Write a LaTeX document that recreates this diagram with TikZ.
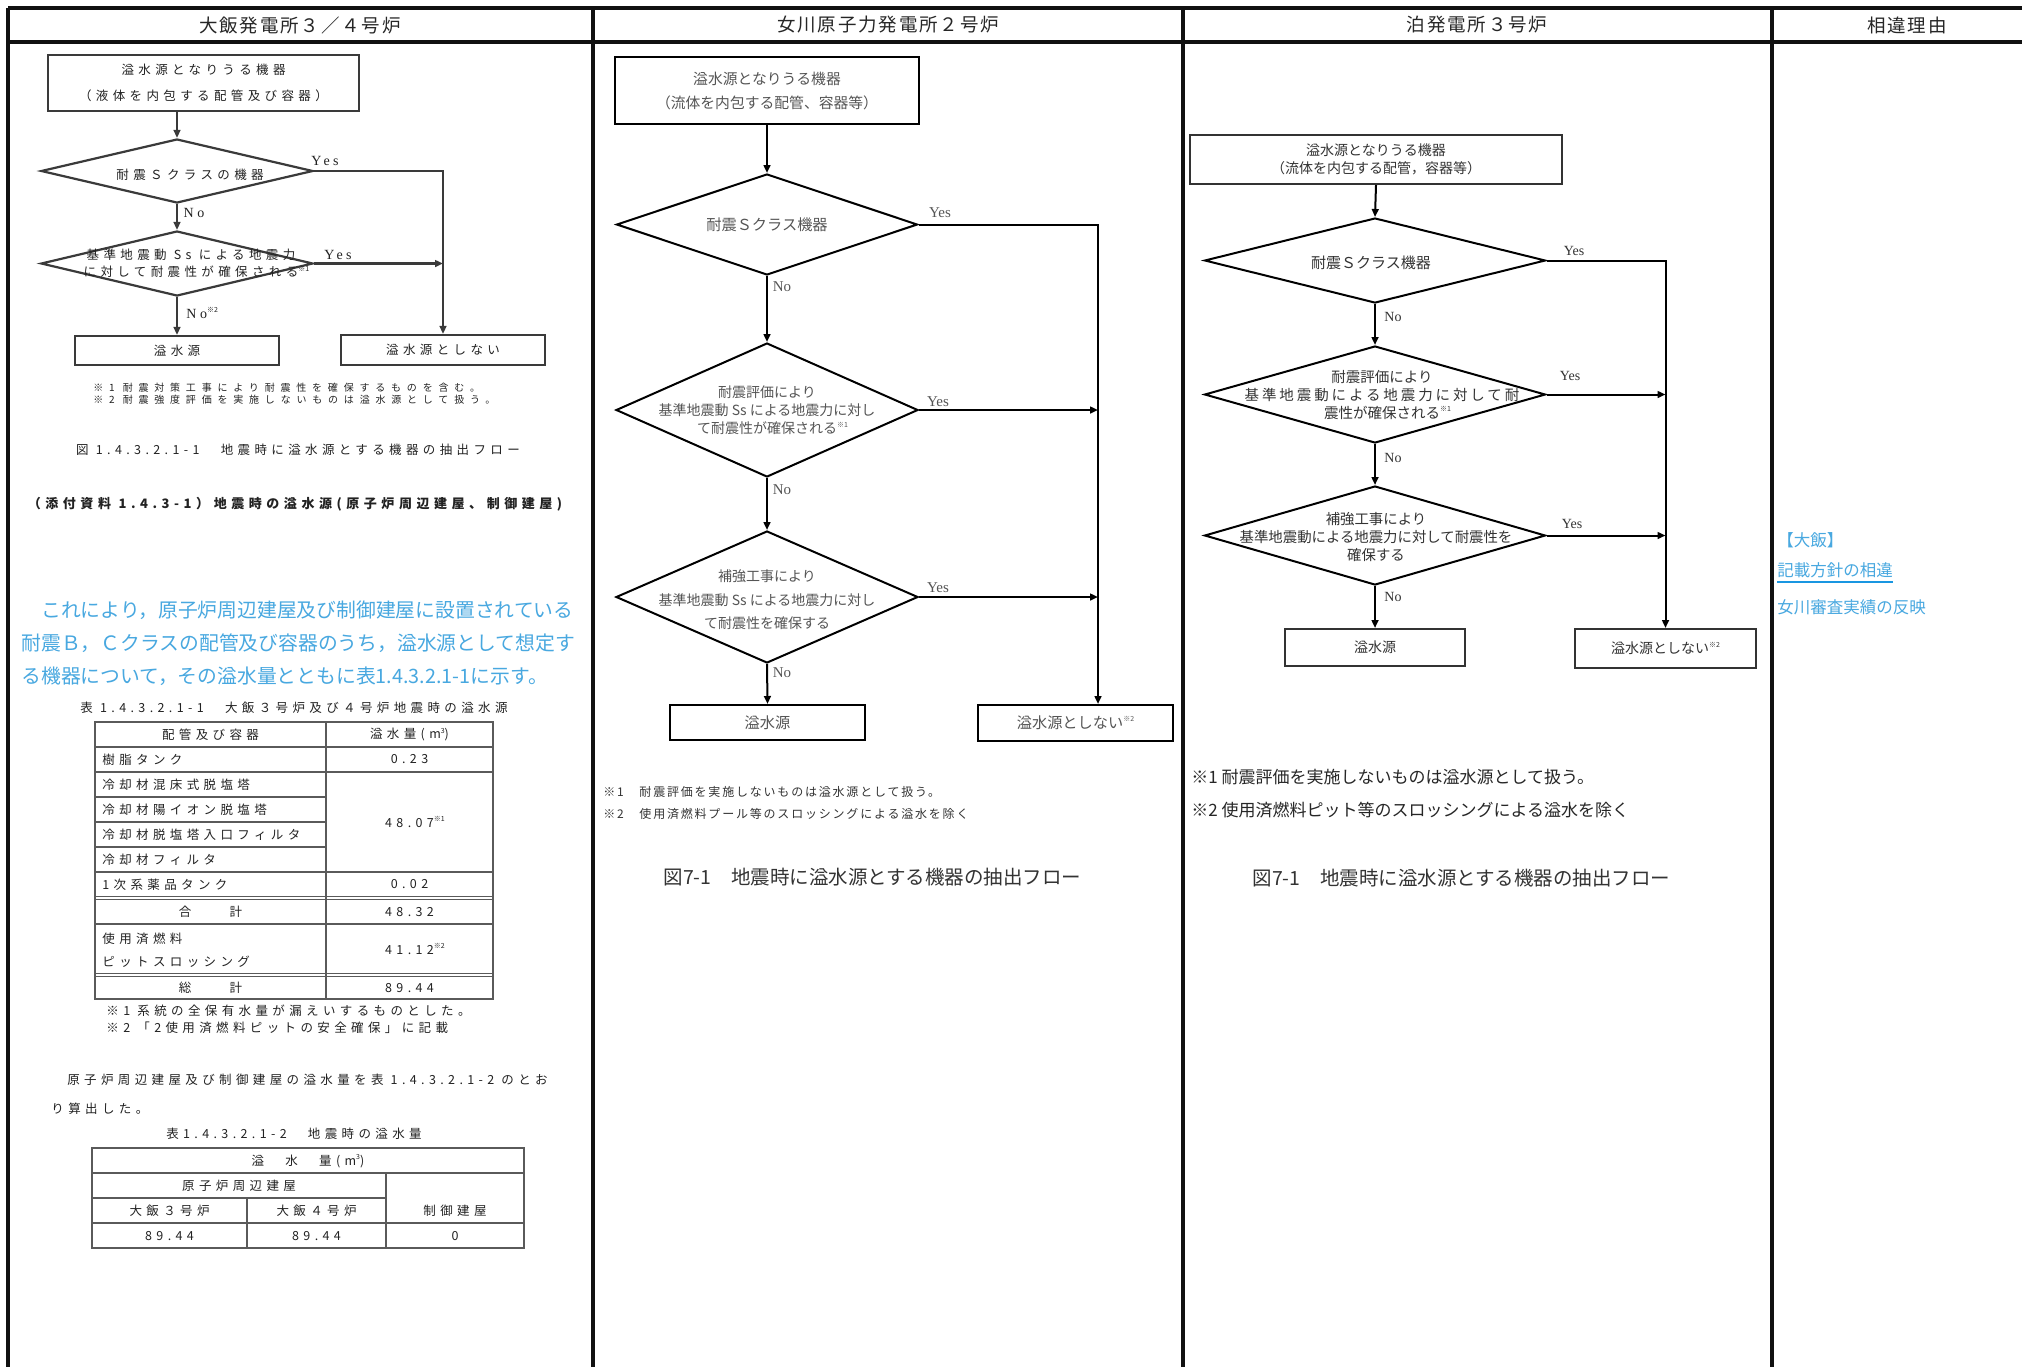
\documentclass[tikz,border=0pt]{standalone}
\usepackage{fontspec}
\setmainfont{Noto Sans CJK JP}
\newfontfamily\jp{Noto Sans CJK JP}
\newfontfamily\jpH[LetterSpace=10]{Noto Sans CJK JP}
\newfontfamily\jpO[LetterSpace=35]{Noto Sans CJK JP}
\newfontfamily\jpN[LetterSpace=58]{Noto Sans CJK JP}
\newfontfamily\jpT[LetterSpace=15]{Noto Sans CJK JP}
\newfontfamily\jpW[LetterSpace=20]{Noto Sans CJK JP}
\newfontfamily\lat{Liberation Serif}
\newfontfamily\latO[LetterSpace=25]{Liberation Serif}
\usetikzlibrary{shapes.geometric,arrows.meta}
\definecolor{framec}{HTML}{111111}
\definecolor{ohitx}{HTML}{222222}
\definecolor{ohiln}{HTML}{3A3A3A}
\definecolor{tblc}{HTML}{5A5A5A}
\definecolor{onatx}{HTML}{555555}
\definecolor{tomtx}{HTML}{333333}
\definecolor{blu}{RGB}{72,168,224}
\definecolor{blul}{RGB}{25,150,225}
\newcommand\kome[1]{\raisebox{0.45em}{\jp\fontsize{3.5pt}{3.5pt}\selectfont #1}}
\begin{document}
\begin{tikzpicture}[x=0.5pt,y=-0.5pt,
  frameln/.style={draw=framec,line width=1.6pt},
  hdr/.style={font=\jpH\fontsize{9.25pt}{10pt}\selectfont,text=black!85,inner sep=0},
  arr/.style={-{Triangle[length=4pt,width=3.4pt]}},
  oln/.style={draw=ohiln,line width=1.1pt},
  obox/.style={draw=ohiln,line width=1.1pt,inner sep=0,align=center,text=ohitx,font=\jpO\fontsize{6.25pt}{13pt}\selectfont},
  odia/.style={diamond,draw=ohiln,line width=1.1pt,inner sep=0},
  otxt/.style={inner sep=0,align=center,text=ohitx,font=\jpO\fontsize{6.25pt}{8.5pt}\selectfont},
  olab/.style={inner sep=0,text=ohitx,font=\latO\fontsize{7pt}{8pt}\selectfont},
  onote/.style={inner sep=0,text=ohitx,font=\jpN\fontsize{5pt}{6pt}\selectfont},
  ocell/.style={inner sep=0,text=ohitx,font=\jpO\fontsize{6.25pt}{8pt}\selectfont},
  tbl/.style={draw=tblc,line width=0.8pt},
  bluetxt/.style={inner sep=0,text=blu,font=\jp\fontsize{9.9pt}{11pt}\selectfont},
  nln/.style={draw=black,line width=1pt},
  nbox/.style={draw=black,line width=1pt,inner sep=0,align=center,text=onatx,font=\jp\fontsize{7.4pt}{12pt}\selectfont},
  ndia/.style={diamond,draw=black,line width=1pt,inner sep=0},
  ntxt/.style={inner sep=0,align=center,text=onatx,font=\jp\fontsize{7pt}{9pt}\selectfont},
  nlab/.style={inner sep=0,text=onatx,font=\lat\fontsize{7.5pt}{8pt}\selectfont},
  nnote/.style={inner sep=0,text=black!80,font=\jpT\fontsize{6pt}{7pt}\selectfont},
  ncap/.style={inner sep=0,text=black!80,font=\jp\fontsize{9.75pt}{11pt}\selectfont},
  tln/.style={draw=black,line width=1pt},
  tbox/.style={draw=black!80,line width=1pt,inner sep=0,align=center,text=tomtx,font=\jp\fontsize{7pt}{9pt}\selectfont},
  tdia/.style={diamond,draw=black,line width=1pt,inner sep=0},
  ttxt/.style={inner sep=0,align=center,text=tomtx,font=\jp\fontsize{7.25pt}{9pt}\selectfont},
  tlab/.style={inner sep=0,text=tomtx,font=\lat\fontsize{7pt}{8pt}\selectfont},
  tnote/.style={inner sep=0,text=black!85,font=\jp\fontsize{8.5pt}{9pt}\selectfont},
  rtxt/.style={inner sep=0,text=blu,font=\jp\fontsize{8.25pt}{9pt}\selectfont}
]
\useasboundingbox (0,0) rectangle (2022,1367);
\fill[white] (0,0) rectangle (2022,1367);

% ---------- frame ----------
\draw[frameln] (8,8) -- (2022,8);
\draw[frameln] (8,42) -- (2022,42);
\draw[frameln] (8,8) -- (8,1367);
\draw[frameln] (593,8) -- (593,1367);
\draw[frameln] (1183,8) -- (1183,1367);
\draw[frameln] (1772,8) -- (1772,1367);
\node[hdr] (h1) at (300,25) {大飯発電所３／４号炉};
\node[hdr] (h2) at (888,25) {女川原子力発電所２号炉};
\node[hdr] (h3) at (1477,25) {泊発電所３号炉};
\node[hdr] (h4) at (1907,25) {相違理由};

% ---------- Ohi flowchart ----------
\node[obox,minimum width=155.5pt,minimum height=28pt] (ob1) at (203.5,83) {溢水源となりうる機器\\（液体を内包する配管及び容器）};
\node[odia,minimum width=136pt,minimum height=32pt] (od1) at (177,171) {};
\node[otxt] (ot1) at (190,175) {耐震Ｓクラスの機器};
\node[odia,minimum width=136pt,minimum height=32.5pt] (od2) at (177,263.5) {};
\node[otxt] (ot2) at (191,263.5) {基準地震動 Ss による地震力\\に対して耐震性が確保される\rlap{\kome{※1}}};
\node[obox,minimum width=102pt,minimum height=14.5pt] (ob2) at (177,350.5) {溢水源};
\node[obox,minimum width=102pt,minimum height=15pt] (ob3) at (443,350) {溢水源としない};
\draw[oln,arr] (od1.north |- ob1.south) -- (od1.north);
\draw[oln,arr] (od1.south) -- (od2.north);
\draw[oln,arr] (od2.south) -- (ob2.north);
\draw[oln,arr] (od1.east) -- (od1.east -| ob3.north) -- (ob3.north);
\draw[oln,arr] (od2.east) -- (od2.east -| ob3.north);
\node[olab] (oy1) at (325,161) {Yes};
\node[olab] (on1) at (194,213) {No};
\node[olab] (oy2) at (338,255) {Yes};
\node[olab,anchor=west] (on2) at (186,313) {No\kome{※2}};
\node[onote,anchor=west] (onb1) at (93,388) {※1 耐震対策工事により耐震性を確保するものを含む。};
\node[onote,anchor=west] (onb2) at (93,400) {※2 耐震強度評価を実施しないものは溢水源として扱う。};
\node[ocell] (ocap1) at (298,450) {図 1.4.3.2.1-1　地震時に溢水源とする機器の抽出フロー};
\node[ocell,font=\jpO\bfseries\fontsize{6.5pt}{8pt}\selectfont] (obold) at (295,504) {（添付資料 1.4.3-1）地震時の溢水源(原子炉周辺建屋、制御建屋)};

% ---------- blue paragraph ----------
\node[bluetxt,anchor=west] (bp1) at (21,610) {　これにより，原子炉周辺建屋及び制御建屋に設置されている};
\node[bluetxt,anchor=west] (bp2) at (21,643) {耐震Ｂ，Ｃクラスの配管及び容器のうち，溢水源として想定す};
\node[bluetxt,anchor=west] (bp3) at (21,676) {る機器について，その溢水量とともに表1.4.3.2.1-1に示す。};

% ---------- table 1 ----------
\node[ocell] (tc1) at (294,708) {表 1.4.3.2.1-1　大飯３号炉及び４号炉地震時の溢水源};
\draw[tbl] (95,722) rectangle (493,999);
\draw[tbl] (326,722) -- (326,999);
\draw[tbl] (95,747) -- (493,747);
\draw[tbl] (95,772) -- (493,772);
\draw[tbl] (95,797) -- (326,797);
\draw[tbl] (95,822) -- (326,822);
\draw[tbl] (95,847) -- (326,847);
\draw[tbl] (95,872) -- (493,872);
\draw[tbl] (95,896.5) -- (493,896.5);
\draw[tbl] (95,899.5) -- (493,899.5);
\draw[tbl] (95,924) -- (493,924);
\draw[tbl] (95,973.5) -- (493,973.5);
\draw[tbl] (95,976.5) -- (493,976.5);
\node[ocell] (c11) at (210.5,734.5) {配管及び容器};
\node[ocell] (c12) at (409.5,734.5) {溢水量(m\kome{3})};
\node[ocell,anchor=west] (c21) at (102,759.5) {樹脂タンク};
\node[ocell] (c22) at (409.5,759.5) {0.23};
\node[ocell,anchor=west] (c31) at (102,784.5) {冷却材混床式脱塩塔};
\node[ocell,anchor=west] (c41) at (102,809.5) {冷却材陽イオン脱塩塔};
\node[ocell,anchor=west] (c51) at (102,834.5) {冷却材脱塩塔入口フィルタ};
\node[ocell,anchor=west] (c61) at (102,859.5) {冷却材フィルタ};
\node[ocell] (c32) at (409.5,822) {48.07\rlap{\kome{※1}}};
\node[ocell,anchor=west] (c71) at (102,884.5) {1次系薬品タンク};
\node[ocell] (c72) at (409.5,884.5) {0.02};
\node[ocell] (c81) at (210.5,912) {合　　計};
\node[ocell] (c82) at (409.5,912) {48.32};
\node[ocell,anchor=west] (c91) at (102,939) {使用済燃料};
\node[ocell,anchor=west] (c92) at (102,962) {ピットスロッシング};
\node[ocell] (c93) at (409.5,949) {41.12\rlap{\kome{※2}}};
\node[ocell] (c101) at (210.5,988) {総　　計};
\node[ocell] (c102) at (409.5,988) {89.44};
\node[ocell,anchor=west] (tn1) at (106,1011) {※1 系統の全保有水量が漏えいするものとした。};
\node[ocell,anchor=west] (tn2) at (106,1028) {※2 「2使用済燃料ピットの安全確保」に記載};

% ---------- paragraph 2 + table 2 ----------
\node[ocell,anchor=west] (p21) at (50,1080) {　原子炉周辺建屋及び制御建屋の溢水量を表 1.4.3.2.1-2 のとお};
\node[ocell,anchor=west] (p22) at (51,1109) {り算出した。};
\node[ocell] (tc2) at (294,1134) {表1.4.3.2.1-2　地震時の溢水量};
\draw[tbl] (92,1148) rectangle (524,1248);
\draw[tbl] (92,1173) -- (524,1173);
\draw[tbl] (92,1198) -- (386,1198);
\draw[tbl] (92,1223) -- (524,1223);
\draw[tbl] (386,1173) -- (386,1248);
\draw[tbl] (247,1198) -- (247,1248);
\node[ocell] (d11) at (308,1161) {溢　水　量(m\kome{3})};
\node[ocell] (d21) at (239,1186) {原子炉周辺建屋};
\node[ocell] (d22) at (455,1210.5) {制御建屋};
\node[ocell] (d31) at (169.5,1211) {大飯３号炉};
\node[ocell] (d32) at (316.5,1211) {大飯４号炉};
\node[ocell] (d41) at (169.5,1236) {89.44};
\node[ocell] (d42) at (316.5,1236) {89.44};
\node[ocell] (d43) at (455,1236) {0};

% ---------- Onagawa ----------
\node[nbox,minimum width=152pt,minimum height=33.5pt] (nb1) at (767,90.5) {溢水源となりうる機器\\（流体を内包する配管、容器等）};
\node[ndia,minimum width=150.5pt,minimum height=50.5pt] (nd1) at (767,224.5) {};
\node[ntxt,font=\jp\fontsize{7.6pt}{9pt}\selectfont] (nt1) at (767,224.5) {耐震Ｓクラス機器};
\node[ndia,minimum width=151pt,minimum height=67pt] (nd2) at (767,410) {};
\node[ntxt] (nt2) at (767,410) {耐震評価により\\基準地震動 Ss による地震力に対し\\て耐震性が確保される\rlap{\kome{※1}}};
\node[ndia,minimum width=151pt,minimum height=66pt] (nd3) at (767,597) {};
\node[ntxt,font=\jp\fontsize{7pt}{11.75pt}\selectfont] (nt3) at (767,600) {補強工事により\\基準地震動 Ss による地震力に対し\\て耐震性を確保する};
\node[nbox,minimum width=97.5pt,minimum height=17.5pt,font=\jp\fontsize{7.6pt}{9pt}\selectfont] (nb2) at (767.5,722.5) {溢水源};
\node[nbox,minimum width=97.5pt,minimum height=18pt,font=\jp\fontsize{7.6pt}{9pt}\selectfont] (nb3) at (1075.5,723) {溢水源としない\kome{※2}};
\coordinate (nv) at (1098,0);
\draw[nln,arr] (nb1.south) -- (nd1.north);
\draw[nln,arr] (nd1.south) -- (nd2.north);
\draw[nln,arr] (nd2.south) -- (nd3.north);
\draw[nln,arr] (nd3.south) -- (nb2.north);
\draw[nln,arr] (nd1.east) -- (nd1.east -| nv) -- (nv |- nb3.north);
\draw[nln,arr] (nd2.east) -- (nd2.east -| nv);
\draw[nln,arr] (nd3.east) -- (nd3.east -| nv);
\node[nlab] (ny1) at (940,213) {Yes};
\node[nlab] (ny2) at (938,402) {Yes};
\node[nlab] (ny3) at (938,588) {Yes};
\node[nlab] (nn1) at (782,287) {No};
\node[nlab] (nn2) at (782,490) {No};
\node[nlab] (nn3) at (782,673) {No};
\node[nnote,anchor=west] (nn4) at (603,792) {※1　耐震評価を実施しないものは溢水源として扱う。};
\node[nnote,anchor=west] (nn5) at (603,814) {※2　使用済燃料プール等のスロッシングによる溢水を除く};
\node[ncap] (ncp) at (872.5,877) {図7-1　地震時に溢水源とする機器の抽出フロー};

% ---------- Tomari ----------
\node[tbox,minimum width=186pt,minimum height=24.5pt] (tb1) at (1376,159.5) {溢水源となりうる機器\\（流体を内包する配管，容器等）};
\node[tdia,minimum width=170.5pt,minimum height=42.5pt] (td1) at (1375,260.5) {};
\node[ttxt,font=\jp\fontsize{7.5pt}{9pt}\selectfont] (tt1) at (1371,263) {耐震Ｓクラス機器};
\node[tdia,minimum width=170.5pt,minimum height=48.5pt] (td2) at (1375,394.5) {};
\node[ttxt] (tt2) at (1382,395) {耐震評価により\\{\jpW 基準地震動による地震力に対して耐}\\震性が確保される\rlap{\kome{※1}}};
\node[tdia,minimum width=170.5pt,minimum height=49.5pt] (td3) at (1375,535.5) {};
\node[ttxt,font=\jp\fontsize{7.2pt}{9pt}\selectfont] (tt3) at (1376,537) {補強工事により\\基準地震動による地震力に対して耐震性を\\確保する};
\node[tbox,minimum width=90pt,minimum height=18.5pt] (tb2) at (1375,647.5) {溢水源};
\node[tbox,minimum width=90.5pt,minimum height=19.5pt] (tb3) at (1665.5,648.5) {溢水源としない\kome{※2}};
\draw[tln,arr] (tb1.south) -- (td1.north);
\draw[tln,arr] (td1.south) -- (td2.north);
\draw[tln,arr] (td2.south) -- (td3.north);
\draw[tln,arr] (td3.south) -- (tb2.north);
\draw[tln,arr] (td1.east) -- (td1.east -| tb3.north) -- (tb3.north);
\draw[tln,arr] (td2.east) -- (td2.east -| tb3.north);
\draw[tln,arr] (td3.east) -- (td3.east -| tb3.north);
\node[tlab] (ty1) at (1574,251) {Yes};
\node[tlab] (ty2) at (1570,376) {Yes};
\node[tlab] (ty3) at (1572,524) {Yes};
\node[tlab] (tn1b) at (1393,317) {No};
\node[tlab] (tn2b) at (1393,458) {No};
\node[tlab] (tn3b) at (1393,597) {No};
\node[tnote,anchor=west] (tnt1) at (1191,777) {※1 耐震評価を実施しないものは溢水源として扱う。};
\node[tnote,anchor=west] (tnt2) at (1191,810) {※2 使用済燃料ピット等のスロッシングによる溢水を除く};
\node[ncap] (tcp) at (1461.5,878) {図7-1　地震時に溢水源とする機器の抽出フロー};

% ---------- reason column ----------
\node[rtxt,anchor=west] (r1) at (1777,540) {【大飯】};
\node[rtxt,anchor=west] (r2) at (1777,570) {記載方針の相違};
\draw[blul,line width=1.2pt] ([yshift=-2pt]r2.south west) -- ([yshift=-2pt]r2.south east);
\node[rtxt,anchor=west] (r3) at (1777,607) {女川審査実績の反映};
\end{tikzpicture}
\end{document}
